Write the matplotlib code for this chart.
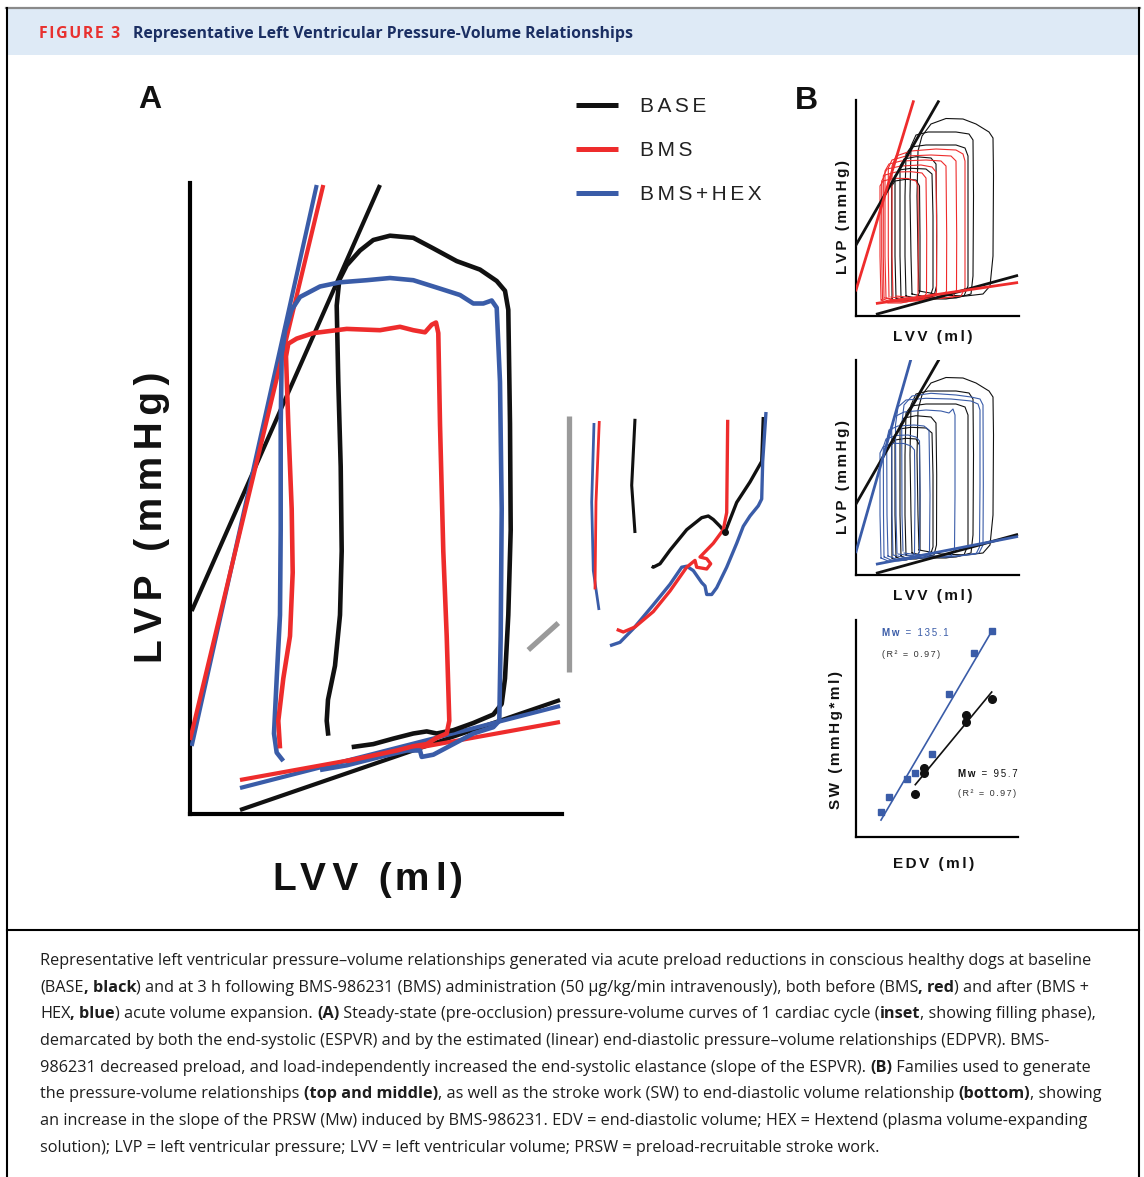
import os
import matplotlib
matplotlib.use('Agg')
import matplotlib.pyplot as plt
import numpy as np
from matplotlib import font_manager
from matplotlib.transforms import IdentityTransform
from matplotlib.font_manager import FontProperties
from matplotlib.lines import Line2D
from matplotlib.patches import Rectangle

# ------------------------------------------------------------------ data
series_names = ['BASE', 'BMS', 'BMS+HEX']

# Panel A: ESPVR / EDPVR (arbitrary LVV / LVP units)
espvr_base_v = [1.7, 190.0];   espvr_base_p = [203.0, 629.0]
espvr_bms_v = [0.0, 133.3];    espvr_bms_p = [74.0, 629.0]
espvr_hex_v = [1.7, 126.7];    espvr_hex_p = [68.0, 629.0]
edpvr_base_v = [50.0, 370.0];  edpvr_base_p = [4.0, 114.0]
edpvr_bms_v = [50.0, 370.0];   edpvr_bms_p = [34.0, 92.0]
edpvr_hex_v = [50.0, 370.0];   edpvr_hex_p = [26.0, 108.0]

# Panel A: single steady-state loops
loop_base_v = [138.3, 136.7, 138.0, 145.0, 150.0, 151.7, 150.7, 148.3, 146.7, 149.3, 156.7, 170.0,
               183.3, 200.0, 223.3, 243.3, 266.7, 290.0, 306.7, 315.0, 318.3, 320.0, 320.7, 318.3,
               315.0, 311.7, 303.3, 283.3, 263.3, 246.7, 236.7, 223.3, 203.3, 183.3, 161.7]
loop_base_p = [78.3, 93.2, 114.3, 148.2, 199.0, 263.0, 347.4, 432.1, 508.4, 534.0, 548.7, 563.5,
               574.0, 578.3, 576.2, 565.6, 552.9, 544.4, 533.0, 523.2, 504.2, 390.0, 284.0, 199.0,
               135.5, 110.1, 99.5, 91.0, 83.8, 80.5, 82.6, 80.5, 75.4, 69.9, 66.9]
loop_bms_v = [90.0, 88.3, 93.3, 100.0, 102.7, 101.7, 98.3, 96.0, 98.3, 106.7, 123.3, 156.7, 190.0,
              210.0, 223.3, 235.0, 241.7, 246.0, 248.3, 250.0, 253.3, 256.7, 259.3, 256.7, 246.7,
              236.7, 223.3, 206.7, 156.7]
loop_bms_p = [65.6, 93.2, 135.5, 177.9, 241.5, 305.0, 389.8, 457.6, 470.3, 475.4, 480.9, 485.1, 483.8,
              487.2, 483.8, 481.7, 489.3, 491.5, 480.9, 389.8, 262.6, 177.9, 93.2, 80.5, 76.2,
              69.9, 67.8, 63.5, 52.9]
loop_hex_v = [93.3, 86.7, 84.0, 86.7, 90.0, 90.7, 90.7, 91.7, 95.0, 101.7, 110.0, 130.0, 150.0, 176.7,
              200.0, 223.3, 250.0, 270.0, 283.3, 293.3, 301.7, 306.7, 310.0, 311.7, 310.7, 309.3,
              303.3, 283.3, 263.3, 243.3, 231.7, 230.0, 216.7, 190.0, 156.7, 130.0]
loop_hex_p = [53.0, 61.4, 80.4, 135.5, 199.0, 284.0, 389.8, 457.6, 483.0, 504.2, 517.0, 527.5, 531.7,
              533.8, 536.0, 533.8, 525.4, 519.0, 510.5, 510.5, 513.5, 506.3, 432.1, 305.0, 177.9,
              93.2, 86.8, 80.5, 69.9, 59.3, 57.1, 63.5, 63.5, 57.1, 48.7, 44.0]

# Inset (filling phase), inset units
ins_hex_left_u = [74.0, 71.7, 73.3, 79.0];  ins_hex_left_w = [257.0, 178.0, 109.4, 70.0]
ins_bms_left_u = [79.3, 76.0, 75.0];        ins_bms_left_w = [259.0, 178.0, 90.6]
ins_base_left_u = [115.0, 111.7, 115.0];    ins_base_left_w = [261.2, 194.7, 147.0]
ins_bms_right_u = [207.7, 206.7, 203.3, 193.3, 180.0, 186.7, 190.7, 186.7, 176.7, 175.0, 166.7,
                   150.0, 133.3, 115.0, 103.3, 96.7]
ins_bms_right_w = [260.2, 167.4, 150.3, 136.7, 123.0, 121.3, 116.2, 111.0, 112.8, 119.6, 112.8,
                   89.0, 68.4, 53.0, 48.0, 50.6]
ins_hex_right_u = [246.0, 242.7, 241.7, 238.3, 230.0, 223.3, 216.7, 206.7, 196.7, 191.7, 186.7,
                   185.0, 181.7, 173.3, 166.7, 161.7, 150.0, 133.3, 113.3, 100.0, 90.0]
ins_hex_right_w = [268.0, 218.6, 181.0, 174.2, 164.0, 153.7, 136.7, 112.8, 92.3, 85.5, 85.5,
                   94.0, 97.4, 109.4, 113.8, 112.8, 95.7, 75.2, 51.3, 37.7, 34.3]
ins_base_right_u = [243.3, 241.7, 230.0, 216.7, 205.0, 200.0, 193.3, 188.3, 181.7, 166.7, 150.0,
                    140.0, 133.3, 131.7]
ins_base_right_w = [263.0, 218.6, 198.0, 177.6, 147.6, 153.7, 160.5, 164.0, 162.3, 150.3, 129.8,
                    116.2, 112.8, 113.8]
ins_dot_u = [205.0];  ins_dot_w = [147.6]
ins_bar_u = [49.0, 49.0];  ins_bar_w = [8.0, 264.0]
ins_tick_u = [8.3, 38.3];  ins_tick_w = [30.0, 57.0]

# Panel B (top / middle): families of loops
pb_espvr_base_v = [0.0, 82.3];   pb_espvr_base_p = [71.0, 214.3]
pb_espvr_bms_v = [0.0, 57.3];    pb_espvr_bms_p = [26.0, 214.3]
pb_espvr_hex_v = [0.0, 54.7];    pb_espvr_hex_p = [23.3, 215.0]
pb_edpvr_base_v = [21.3, 160.7]; pb_edpvr_base_p = [2.0, 40.3]
pb_edpvr_bms_v = [21.3, 160.7];  pb_edpvr_bms_p = [12.7, 33.3]
pb_edpvr_hex_v = [21.3, 160.7];  pb_edpvr_hex_p = [11.0, 38.3]

fam_base = [
    [(63, 25), (62, 60), (61, 120), (62, 165), (66, 180), (75, 192), (90, 197.5), (107, 197), (120, 192),
     (133, 184), (137, 178), (137.5, 140), (137, 60), (134, 30), (127, 22), (110, 20), (85, 21), (63, 25)],
    [(56, 22), (55, 60), (54, 120), (55, 170), (60, 181), (72, 184), (100, 184), (113, 182), (117, 176),
     (117.5, 120), (117, 40), (115, 22), (100, 18), (75, 18), (56, 22)],
    [(50, 20), (49, 60), (49, 120), (50, 162), (55, 169), (70, 171), (100, 171), (109, 168), (112, 160),
     (112, 100), (112, 30), (108, 20), (90, 17), (65, 17), (50, 20)],
    [(45, 19), (44, 60), (44, 150), (48, 157), (60, 159.3), (75, 158), (80, 152), (80.7, 100), (80.5, 30),
     (78, 20), (65, 17), (50, 17), (45, 19)],
    [(40, 18), (39, 60), (39, 140), (43, 146), (55, 147.7), (70, 147), (76, 142), (77, 100), (77, 28),
     (74, 19), (60, 16), (45, 16), (40, 18)],
    [(36, 17), (35.7, 60), (35.7, 130), (39, 135), (50, 136.7), (60, 136), (63.5, 130), (64, 80), (64, 25),
     (61, 18), (50, 15), (40, 15), (36, 17)],
]
fam_bms = [
    [(37, 20), (36, 60), (36, 150), (40, 160), (55, 165), (80, 167), (100, 166), (107, 162), (109, 155),
     (109, 80), (109, 28), (105, 20), (85, 18), (60, 18), (40, 20)],
    [(33, 19), (32.3, 60), (32.3, 148), (36, 156), (50, 160), (75, 161), (95, 160), (100, 155), (100.7, 80),
     (100.5, 26), (97, 19), (75, 17), (50, 17), (35, 19)],
    [(30, 18), (29, 60), (29, 145), (33, 152), (45, 155), (70, 156), (85, 155), (90, 150), (90.7, 80),
     (90.5, 25), (87, 18), (65, 16), (40, 16), (31, 18)],
    [(28, 18), (27.3, 60), (27.3, 140), (31, 147), (45, 150), (65, 151), (76, 149), (80, 144), (80.7, 80),
     (80.5, 24), (77, 18), (60, 15), (40, 15), (29, 18)],
    [(26.5, 17), (25.7, 60), (25.7, 135), (29, 141), (40, 144), (55, 144.3), (66, 143), (70, 138),
     (70.7, 80), (70.5, 23), (67, 17), (50, 14), (35, 14), (27, 17)],
    [(25, 16), (24, 60), (24, 130), (27, 135), (38, 137.7), (52, 137.5), (60, 135), (62, 130), (62.3, 80),
     (62, 22), (59, 16), (45, 13), (32, 13), (25.5, 16)],
]
fam_hex = [
    [(47, 24), (46, 60), (45.7, 150), (48, 170), (56, 179), (75, 181.7), (100, 180), (115, 178), (124, 176),
     (127, 170), (127.3, 90), (127, 30), (123, 22), (100, 19), (70, 19), (48, 22)],
    [(41, 22), (40, 60), (39.5, 150), (42, 168), (50, 175), (70, 176.7), (95, 176), (115, 174), (122, 171),
     (124, 165), (124, 90), (123.5, 28), (120, 21), (95, 18), (65, 18), (42, 21)],
    [(37, 21), (36, 60), (35.7, 145), (38, 158), (48, 163), (70, 165), (85, 164), (93, 162), (97, 166),
     (99, 160), (99, 80), (98.5, 26), (95, 19), (75, 17), (50, 17), (37, 20)],
    [(32, 19), (31, 60), (30.7, 135), (33, 145), (42, 149), (58, 150), (68, 149), (73, 145), (74, 80),
     (73.5, 24), (70, 18), (55, 16), (40, 16), (32, 19)],
    [(28, 18), (27.5, 60), (27.3, 128), (30, 136), (40, 139.5), (52, 140), (60, 138), (63.5, 134), (64, 80),
     (63.5, 23), (60, 17), (48, 15), (35, 15), (28.5, 18)],
    [(25, 17), (24, 60), (24, 122), (27, 128), (36, 131.7), (48, 131.5), (55, 129), (58.5, 125), (59, 80),
     (58.5, 22), (55, 16), (43, 14), (32, 14), (25, 17)],
]

# Panel B (bottom): stroke work vs EDV
sw_hex_edv = [25.0, 33.3, 50.7, 59.3, 76.3, 93.0, 118.3, 135.7]
sw_hex_sw = [25.3, 40.3, 57.7, 63.7, 83.0, 142.7, 184.3, 206.3]
sw_base_edv = [59.3, 68.0, 68.0, 110.0, 110.0, 135.7]
sw_base_sw = [42.7, 68.7, 64.3, 122.0, 115.3, 137.7]
mw_hex_text = ['Mw', ' = 135.1']
mw_base_text = ['Mw', ' = 95.7']
r2_text = '(R\u00b2 = 0.97)'

title_tag = 'FIGURE 3'
title_text = 'Representative Left Ventricular Pressure-Volume Relationships'
caption_lines = [
    "Representative left ventricular pressure\u2013volume relationships generated via acute preload reductions in conscious healthy dogs at baseline",
    "(BASE**, black**) and at 3 h following BMS-986231 (BMS) administration (50 \u03bcg/kg/min intravenously), both before (BMS**, red**) and after (BMS +",
    "HEX**, blue**) acute volume expansion. **(A)** Steady-state (pre-occlusion) pressure-volume curves of 1 cardiac cycle (**inset**, showing filling phase),",
    "demarcated by both the end-systolic (ESPVR) and by the estimated (linear) end-diastolic pressure\u2013volume relationships (EDPVR). BMS-",
    "986231 decreased preload, and load-independently increased the end-systolic elastance (slope of the ESPVR). **(B)** Families used to generate",
    "the pressure-volume relationships **(top and middle)**, as well as the stroke work (SW) to end-diastolic volume relationship **(bottom)**, showing",
    "an increase in the slope of the PRSW (Mw) induced by BMS-986231. EDV = end-diastolic volume; HEX = Hextend (plasma volume-expanding",
    "solution); LVP = left ventricular pressure; LVV = left ventricular volume; PRSW = preload-recruitable stroke work.",
]

# ------------------------------------------------------------------ style
W, H = 1144, 1177
BLACK, RED, BLUE, GRAY = '#111111', '#ee2c2c', '#3a5ca8', '#9a9a9a'
NAVY, TAGRED = '#1b2f63', '#e8312f'
HS = '\u200a'
LAB_FAM = ['Liberation Sans', 'DejaVu Sans']
ID = IdentityTransform()


def pick_family(cands):
    for fam in cands:
        try:
            r = font_manager.findfont(FontProperties(family=fam, weight='normal'), fallback_to_default=False)
            b = font_manager.findfont(FontProperties(family=fam, weight='bold'), fallback_to_default=False)
        except Exception:
            continue
        if r != b and 'bold' in os.path.basename(b).lower():
            return fam
    return 'DejaVu Sans'


CAP_MAIN = pick_family(['Noto Sans', 'Open Sans', 'Roboto', 'Lato', 'Inter', 'Liberation Sans'])
CAP_FAM = [CAP_MAIN, 'DejaVu Sans']

fig = plt.figure(figsize=(W / 100, H / 100), dpi=100)
fig.patch.set_facecolor('white')
renderer = fig.canvas.get_renderer()


def box(x0, y0, x1, y1):
    return [x0 / W, 1 - y1 / H, (x1 - x0) / W, (y1 - y0) / H]


def tw(s, prop):
    return renderer.get_text_width_height_descent(s, prop, ismath=False)[0]


def adv(s, prop):
    return tw(s + '|', prop) - tw('|', prop)


def spaced(s, n=1):
    if n == 1.5:
        out = s[0]
        for i, c in enumerate(s[1:]):
            out += HS * (1 + i % 2) + c
        return out
    return (HS * int(n)).join(s)


def label(x, y, s, size, weight='bold', color=BLACK, ha='left', rotation=0, n=1, family=LAB_FAM):
    return fig.text(x, H - y, spaced(s, n), transform=ID, fontsize=size, fontweight=weight,
                    family=family, color=color, ha=ha, va='baseline', rotation=rotation,
                    rotation_mode='anchor')


# ------------------------------------------------------------------ frame
fig.add_artist(Rectangle((8, H - 55), 1130, 46, transform=ID, facecolor='#deeaf6', edgecolor='none'))
fig.add_artist(Line2D([6, 1140], [H - 8, H - 8], transform=ID, color='#8a8a8a', lw=1.6))
fig.add_artist(Line2D([7, 7], [0, H - 8], transform=ID, color='black', lw=1.5))
fig.add_artist(Line2D([1139, 1139], [0, H - 8], transform=ID, color='black', lw=1.5))
fig.add_artist(Line2D([7, 1139], [H - 930, H - 930], transform=ID, color='black', lw=1.5))

# header text
p_tag = FontProperties(family=CAP_FAM, weight='bold', size=10)
s_tag = spaced(title_tag, 1)
tag_size = 10 * 81 / tw(s_tag, p_tag)
fig.text(39, H - 38, s_tag, transform=ID, fontsize=tag_size, fontweight='bold', family=CAP_FAM,
         color=TAGRED, va='baseline')
p_tt = FontProperties(family=CAP_FAM, weight='bold', size=10)
tt_size = 10 * 501 / tw(title_text, p_tt)
fig.text(133, H - 38, title_text, transform=ID, fontsize=tt_size, fontweight='bold', family=CAP_FAM,
         color=NAVY, va='baseline')

# caption
p0 = FontProperties(family=CAP_FAM, size=10)
cap_size = 10 * 1053 / tw(caption_lines[0], p0)
p_reg = FontProperties(family=CAP_FAM, size=cap_size)
p_bold = FontProperties(family=CAP_FAM, size=cap_size, weight='bold')
for i, line in enumerate(caption_lines):
    yb = 965 + i * 26.7
    x = 40
    for j, part in enumerate(line.split('**')):
        if not part:
            continue
        prop = p_bold if j % 2 == 1 else p_reg
        fig.text(x, H - yb, part, transform=ID, fontproperties=prop, color='#1e1e1e', va='baseline')
        x += adv(part, prop)

# ------------------------------------------------------------------ panel A
axA = fig.add_axes(box(190, 183, 562, 814))
axA.set_xlim(0, 372)
axA.set_ylim(0, 631)
for sp in ['top', 'right']:
    axA.spines[sp].set_visible(False)
for sp in ['left', 'bottom']:
    axA.spines[sp].set_linewidth(3.0)
    axA.spines[sp].set_color('black')
axA.set_xticks([])
axA.set_yticks([])
kw = dict(solid_capstyle='butt', solid_joinstyle='round')
axA.plot(espvr_base_v, espvr_base_p, color=BLACK, lw=3.0, zorder=2, **kw)
axA.plot(edpvr_base_v, edpvr_base_p, color=BLACK, lw=3.0, zorder=2, **kw)
axA.plot(espvr_hex_v, espvr_hex_p, color=BLUE, lw=3.0, zorder=3, **kw)
axA.plot(edpvr_hex_v, edpvr_hex_p, color=BLUE, lw=3.0, zorder=3, **kw)
axA.plot(espvr_bms_v, espvr_bms_p, color=RED, lw=3.0, zorder=4, **kw)
axA.plot(edpvr_bms_v, edpvr_bms_p, color=RED, lw=3.0, zorder=4, **kw)
axA.plot(loop_base_v, loop_base_p, color=BLACK, lw=3.3, zorder=5, **kw)
axA.plot(loop_hex_v, loop_hex_p, color=BLUE, lw=3.3, zorder=6, **kw)
axA.plot(loop_bms_v, loop_bms_p, color=RED, lw=3.3, zorder=7, **kw)

label(150, 108, 'A', 23, ha='center', family=LAB_FAM)
label(368, 890, 'LVV (ml)', 28, ha='center', n=1.5)
label(162, 517, 'LVP (mmHg)', 28, ha='center', rotation=90, n=2)

# legend
handles = [Line2D([], [], color=c, lw=3.6, solid_capstyle='butt') for c in (BLACK, RED, BLUE)]
fig.legend(handles, [spaced(s, 2) for s in series_names], loc='upper left',
           bbox_to_anchor=(576 / W, 1 - 97 / H), bbox_transform=fig.transFigure, frameon=False,
           handlelength=2.0, handletextpad=1.05, labelspacing=1.2, borderpad=0, borderaxespad=0,
           prop=FontProperties(family=LAB_FAM, size=15), labelcolor='#222222')

# inset
axI = fig.add_axes(box(520, 400, 780, 680))
axI.set_xlim(0, 260)
axI.set_ylim(0, 280)
axI.axis('off')
axI.plot(ins_bar_u, ins_bar_w, color=GRAY, lw=3.8, solid_capstyle='butt')
axI.plot(ins_tick_u, ins_tick_w, color=GRAY, lw=3.8, solid_capstyle='butt')
axI.plot(ins_base_left_u, ins_base_left_w, color=BLACK, lw=2.2, **kw)
axI.plot(ins_hex_left_u, ins_hex_left_w, color=BLUE, lw=2.0, **kw)
axI.plot(ins_bms_left_u, ins_bms_left_w, color=RED, lw=2.0, **kw)
axI.plot(ins_base_right_u, ins_base_right_w, color=BLACK, lw=2.4, **kw)
axI.plot(ins_hex_right_u, ins_hex_right_w, color=BLUE, lw=2.4, **kw)
axI.plot(ins_bms_right_u, ins_bms_right_w, color=RED, lw=2.4, **kw)
axI.plot(ins_dot_u, ins_dot_w, 'o', color=BLACK, ms=4)

# ------------------------------------------------------------------ panel B


def small_axes(rect, ylim, xlim=163):
    ax = fig.add_axes(rect)
    ax.set_xlim(0, xlim)
    ax.set_ylim(0, ylim)
    for sp in ['top', 'right']:
        ax.spines[sp].set_visible(False)
    for sp in ['left', 'bottom']:
        ax.spines[sp].set_linewidth(1.6)
        ax.spines[sp].set_color('black')
    ax.set_xticks([])
    ax.set_yticks([])
    return ax


def draw_family(ax, fam, color, lw=0.8, z=3):
    for loop in fam:
        v = [pt[0] for pt in loop]
        p = [pt[1] for pt in loop]
        ax.plot(v, p, color=color, lw=lw, zorder=z, solid_joinstyle='round')


axB1 = small_axes(box(856, 100, 1019, 316), 216)
draw_family(axB1, fam_base, BLACK, z=3)
draw_family(axB1, fam_bms, RED, z=4)
axB1.plot(pb_espvr_base_v, pb_espvr_base_p, color=BLACK, lw=2.0, zorder=5)
axB1.plot(pb_edpvr_base_v, pb_edpvr_base_p, color=BLACK, lw=2.0, zorder=5)
axB1.plot(pb_espvr_bms_v, pb_espvr_bms_p, color=RED, lw=2.0, zorder=6)
axB1.plot(pb_edpvr_bms_v, pb_edpvr_bms_p, color=RED, lw=2.0, zorder=6)

axB2 = small_axes(box(856, 360, 1019, 575), 215)
draw_family(axB2, fam_base, BLACK, z=3)
draw_family(axB2, fam_hex, BLUE, z=4)
axB2.plot(pb_espvr_base_v, pb_espvr_base_p, color=BLACK, lw=2.0, zorder=5)
axB2.plot(pb_edpvr_base_v, pb_edpvr_base_p, color=BLACK, lw=2.0, zorder=5)
axB2.plot(pb_espvr_hex_v, pb_espvr_hex_p, color=BLUE, lw=2.0, zorder=6)
axB2.plot(pb_edpvr_hex_v, pb_edpvr_hex_p, color=BLUE, lw=2.0, zorder=6)

axB3 = small_axes(box(856, 620, 1018, 837), 217, xlim=162)
fit_hex = np.polyfit(sw_hex_edv, sw_hex_sw, 1)
fit_base = np.polyfit(sw_base_edv, sw_base_sw, 1)
xh = np.array([min(sw_hex_edv), max(sw_hex_edv)])
xb = np.array([min(sw_base_edv), max(sw_base_edv)])
axB3.plot(xh, np.polyval(fit_hex, xh), color=BLUE, lw=1.2, zorder=3)
axB3.plot(xb, np.polyval(fit_base, xb), color=BLACK, lw=1.2, zorder=3)
axB3.plot(sw_hex_edv, sw_hex_sw, 's', color=BLUE, ms=5, zorder=4)
axB3.plot(sw_base_edv, sw_base_sw, 'o', color=BLACK, ms=5.5, zorder=4)

label(806, 109, 'B', 23, ha='center')
label(847, 217, 'LVP (mmHg)', 11, ha='center', rotation=90, n=2)
label(933, 341, 'LVV (ml)', 11, ha='center', n=2)
label(847, 477, 'LVP (mmHg)', 11, ha='center', rotation=90, n=2)
label(933, 600, 'LVV (ml)', 11, ha='center', n=2)
label(840, 740, 'SW (mmHg*ml)', 11, ha='center', rotation=90, n=2)
label(934, 868, 'EDV (ml)', 11, ha='center', n=2)


def mw_label(x, y, parts, color):
    pb = FontProperties(family=LAB_FAM, size=7, weight='bold')
    s0 = spaced(parts[0], 2)
    fig.text(x, H - y, s0, transform=ID, fontproperties=pb, color=color, va='baseline')
    s1 = spaced(parts[1], 2)
    fig.text(x + adv(s0 + HS * 2, pb), H - y, s1, transform=ID,
             fontproperties=FontProperties(family=LAB_FAM, size=7), color=color, va='baseline')


mw_label(882, 636, mw_hex_text, BLUE)
label(882, 657, r2_text, 6.5, weight='normal', color='#333333', n=2)
mw_label(958, 777, mw_base_text, BLACK)
label(958, 796, r2_text, 6.5, weight='normal', color='#333333', n=2)

fig.savefig('out.png', dpi=100)
